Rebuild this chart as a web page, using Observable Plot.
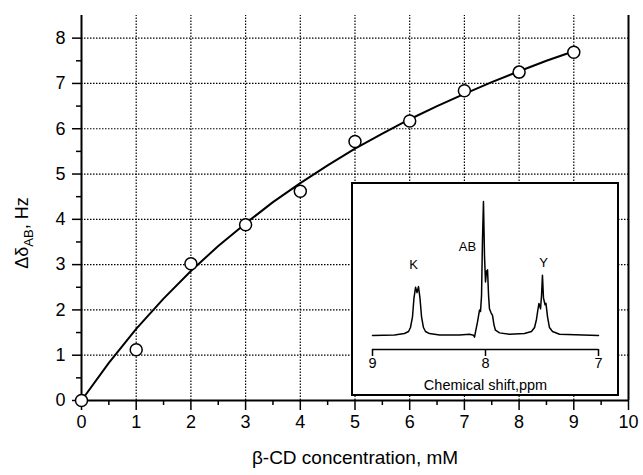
<!DOCTYPE html>
<html>
<head>
<meta charset="utf-8">
<script src="https://cdn.jsdelivr.net/npm/d3@7"></script>
<script src="https://cdn.jsdelivr.net/npm/@observablehq/plot@0.6"></script>
<style>
  body { margin: 0; background: #fff; }
  #wrap { position: relative; width: 643px; height: 475px; font-family: "Liberation Sans", Arial, sans-serif; }
  #wrap svg { position: absolute; }
</style>
</head>
<body>
<div id="wrap"></div>
<script>
// ---- main chart data ----
const concentration = [0, 1, 2, 3, 4, 5, 6, 7, 8, 9];
const deltaHz = [0, 1.12, 3.02, 3.88, 4.62, 5.72, 6.17, 6.84, 7.25, 7.69];
const fitX = [0, 0.5, 1, 1.5, 2, 2.5, 3, 3.5, 4, 4.5, 5, 5.5, 6, 6.5, 7, 7.5, 8, 8.5, 9];
const fitY = [0, 0.83, 1.58, 2.25, 2.86, 3.41, 3.91, 4.38, 4.80, 5.19, 5.56, 5.89, 6.21, 6.50, 6.77, 7.03, 7.27, 7.50, 7.71];
const xTicks = [0, 1, 2, 3, 4, 5, 6, 7, 8, 9, 10];
const xMinor = [0.5, 1.5, 2.5, 3.5, 4.5, 5.5, 6.5, 7.5, 8.5, 9.5];
const yTicks = [0, 1, 2, 3, 4, 5, 6, 7, 8];
const yMinor = [0.5, 1.5, 2.5, 3.5, 4.5, 5.5, 6.5, 7.5];
const xGrid = [1, 2, 3, 4, 5, 6, 7, 8, 9];
const yGrid = [1, 2, 3, 4, 5, 6, 7, 8];

// ---- inset spectrum data ----
const ppm = [9.0, 8.805, 8.717, 8.681, 8.664, 8.646, 8.633, 8.619, 8.606, 8.593, 8.58, 8.566, 8.549, 8.531, 8.496, 8.407,
  8.23, 8.142, 8.106, 8.097, 8.088, 8.071, 8.053, 8.044, 8.035, 8.027, 8.018, 8.009, 8.0, 7.991, 7.982, 7.973, 7.965,
  7.951, 7.938, 7.925, 7.912, 7.876, 7.788, 7.655, 7.593, 7.566, 7.549, 7.535, 7.527, 7.513, 7.504, 7.496, 7.487,
  7.473, 7.465, 7.451, 7.434, 7.407, 7.345, 7.0];
const intensity = [0, 0.5, 1.5, 3, 6, 14, 28, 36, 32, 36.5, 28, 14, 6, 3, 1.5, 0.5,
  0.5, 1, 0.3, -1.2, 3, 10, 19, 18, 30, 70, 100, 60, 40, 48, 49, 30, 20,
  17, 15, 8, 4, 2, 1, 1.5, 3, 6, 12, 20, 24, 20, 30, 45, 28,
  23, 24, 14, 6, 3, 1, 0];
const peakNames = ["K", "AB", "Y"];
const peakPpm = [8.637, 8.159, 7.487];
const peakLabelY = [53, 66, 54];
const ppmTicks = [9, 8, 7];

const points = concentration.map((x, i) => ({x, y: deltaHz[i]}));
const fit = fitX.map((x, i) => ({x, y: fitY[i]}));
const spectrum = ppm.map((p, i) => ({p, v: intensity[i]}));
const peaks = peakNames.map((n, i) => ({n, p: peakPpm[i], v: peakLabelY[i]}));

const FONT = "Liberation Sans, Arial, sans-serif";
const dotted = {stroke: "black", strokeWidth: 1.2, strokeDasharray: "1.5,1.5"};

const main = Plot.plot({
  width: 643,
  height: 475,
  marginLeft: 81,
  marginRight: 15,
  marginTop: 15,
  marginBottom: 75,
  style: {fontFamily: FONT, background: "white", overflow: "visible"},
  x: {domain: [0, 10]},
  y: {domain: [0, 8.5]},
  marks: [
    Plot.ruleX(xGrid, {...dotted, y1: 0, y2: 8.5}),
    Plot.ruleY(yGrid, {...dotted, x1: 0, x2: 10}),
    Plot.ruleX([0, 10], {y1: 0, y2: 8.5, stroke: "black", strokeWidth: 2}),
    Plot.ruleY([0], {x1: 0, x2: 10, stroke: "black", strokeWidth: 2}),
    Plot.axisX(xMinor, {tickSize: 5, tickFormat: () => "", strokeWidth: 1.5, label: null}),
    Plot.axisX(xTicks, {tickSize: 10, tickPadding: 5, fontSize: 18, strokeWidth: 1.5,
      label: "β-CD concentration, mM", labelAnchor: "center", labelArrow: "none", labelOffset: 63}),
    Plot.axisY(yMinor, {tickSize: 5, tickFormat: () => "", strokeWidth: 1.5, label: null}),
    Plot.axisY(yTicks, {tickSize: 9, tickPadding: 7, fontSize: 18, strokeWidth: 1.5, label: null}),
    Plot.line(fit, {x: "x", y: "y", stroke: "black", strokeWidth: 2}),
    Plot.dot(points, {x: "x", y: "y", r: 6, fill: "white", stroke: "black", strokeWidth: 1.5})
  ]
});
main.style.left = "0px";
main.style.top = "0px";
d3.select(main).selectAll("[aria-label='x-axis label'] text").attr("font-size", 19);

// y-axis label with subscript
const yl = d3.select(main).append("text")
  .attr("transform", "translate(28,233) rotate(-90)")
  .attr("text-anchor", "middle")
  .attr("font-family", FONT)
  .attr("font-size", 18)
  .attr("fill", "black");
yl.append("tspan").text("Δδ");
yl.append("tspan").attr("font-size", 13).attr("dy", 5).text("AB");
yl.append("tspan").attr("dy", -5).text(", Hz");

document.getElementById("wrap").appendChild(main);

// ---- inset ----
const inset = Plot.plot({
  width: 266,
  height: 212,
  marginLeft: 20,
  marginRight: 20,
  marginTop: 18,
  marginBottom: 46,
  style: {fontFamily: FONT, background: "white", overflow: "visible"},
  x: {domain: [9, 7]},
  y: {domain: [-10.4, 100], axis: null},
  marks: [
    Plot.ruleY([-10.4], {x1: 9, x2: 7, stroke: "black", strokeWidth: 1.5}),
    Plot.axisX(ppmTicks, {tickSize: 7, tickPadding: 1, fontSize: 14.5, strokeWidth: 1.5, tickFormat: d3.format("d"),
      label: "Chemical shift,ppm", labelAnchor: "center", labelArrow: "none", labelOffset: 40}),
    Plot.line(spectrum, {x: "p", y: "v", stroke: "black", strokeWidth: 1.5, curve: "linear"}),
    Plot.text(peaks, {x: "p", y: "v", text: "n", fontSize: 13, fill: "black"})
  ]
});
inset.style.left = "352px";
inset.style.top = "183px";
inset.style.outline = "2px solid black";
inset.style.outlineOffset = "-1px";
d3.select(inset).selectAll("[aria-label='x-axis label'] text").attr("font-size", 14.5);
document.getElementById("wrap").appendChild(inset);
</script>
</body>
</html>
